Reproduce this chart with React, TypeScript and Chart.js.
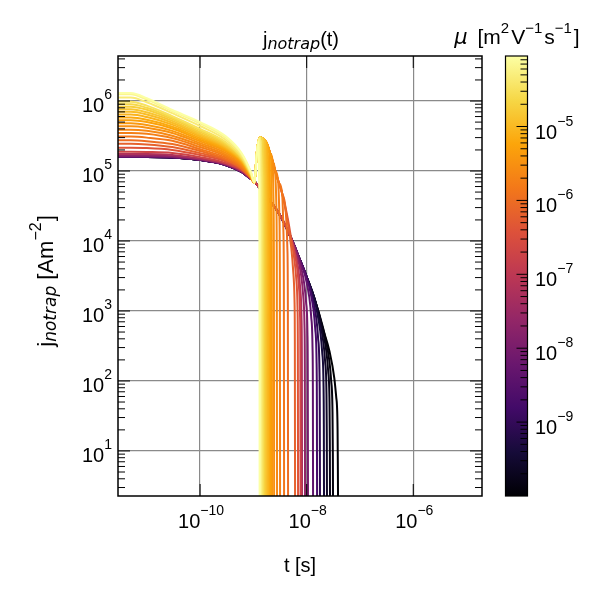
import React, { useEffect, useRef } from 'react';
import { Chart, registerables } from 'chart.js';

Chart.register(...registerables);

// axis limits
const tRange = [2.88e-12, 1.95e-5];
const jRange = [2.27, 4.4e6];
const muRange = [1.0e-10, 9.0e-5];

const tTicks = [1e-10, 1e-8, 1e-6];
const jDecades = [0, 1, 2, 3, 4, 5, 6];
const muDecades = [-10, -9, -8, -7, -6, -5];

// one mobility per curve [m^2/Vs], brightest first (drawn on top)
const mobility = [
  9.0e-5, 6.5e-5, 4.6e-5, 3.3e-5, 2.4e-5, 1.8e-5, 1.4e-5, 1.1e-5, 8.5e-6, 6.6e-6,
  5.2e-6, 4.0e-6, 3.1e-6, 2.4e-6, 1.8e-6, 1.35e-6, 1.0e-6, 6.5e-7, 4.0e-7, 2.0e-7,
  6.0e-8, 2.2e-8, 9.0e-9, 4.0e-9, 1.8e-9, 8.0e-10, 4.0e-10, 2.5e-10, 1.6e-10, 1.25e-10,
  1.0e-10,
];

// early part, same times for every curve
const earlyTimes = [2.88e-12, 5e-12, 1e-11, 3e-11, 1e-10, 3e-10, 6e-10, 9e-10];
const earlyCurrent = [
  [1.3e6, 1.3e6, 1.1e6, 7.44e5, 5.01e5, 3.16e5, 1.81e5, 9.7e4],
  [1.25e6, 1.25e6, 1.05e6, 7.2e5, 4.8e5, 3.0e5, 1.75e5, 9.5e4],
  [1.12e6, 1.12e6, 9.6e5, 6.7e5, 4.4e5, 2.8e5, 1.66e5, 9.3e4],
  [9.8e5, 9.8e5, 8.6e5, 6.1e5, 4.0e5, 2.6e5, 1.58e5, 9.1e4],
  [9.0e5, 9.0e5, 8.0e5, 5.8e5, 3.8e5, 2.5e5, 1.54e5, 9.0e4],
  [8.3e5, 8.3e5, 7.5e5, 5.5e5, 3.6e5, 2.4e5, 1.51e5, 8.9e4],
  [7.6e5, 7.6e5, 6.9e5, 5.2e5, 3.4e5, 2.3e5, 1.47e5, 8.8e4],
  [7.0e5, 7.0e5, 6.4e5, 4.9e5, 3.25e5, 2.22e5, 1.44e5, 8.7e4],
  [6.4e5, 6.4e5, 5.9e5, 4.6e5, 3.1e5, 2.15e5, 1.41e5, 8.6e4],
  [5.8e5, 5.8e5, 5.4e5, 4.3e5, 2.95e5, 2.07e5, 1.38e5, 8.5e4],
  [5.3e5, 5.3e5, 5.0e5, 4.05e5, 2.8e5, 2.0e5, 1.35e5, 8.4e4],
  [4.8e5, 4.8e5, 4.55e5, 3.75e5, 2.65e5, 1.92e5, 1.31e5, 8.3e4],
  [4.35e5, 4.35e5, 4.15e5, 3.5e5, 2.5e5, 1.82e5, 1.27e5, 8.2e4],
  [3.9e5, 3.9e5, 3.75e5, 3.2e5, 2.35e5, 1.72e5, 1.22e5, 8.2e4],
  [3.5e5, 3.5e5, 3.4e5, 2.95e5, 2.2e5, 1.64e5, 1.18e5, 8.1e4],
  [3.1e5, 3.1e5, 3.0e5, 2.7e5, 2.05e5, 1.56e5, 1.14e5, 8.0e4],
  [2.75e5, 2.75e5, 2.67e5, 2.43e5, 1.93e5, 1.48e5, 1.1e5, 7.9e4],
  [2.45e5, 2.45e5, 2.4e5, 2.2e5, 1.8e5, 1.43e5, 1.08e5, 7.9e4],
  [2.15e5, 2.15e5, 2.13e5, 2.0e5, 1.69e5, 1.38e5, 1.06e5, 7.9e4],
  [1.88e5, 1.88e5, 1.87e5, 1.81e5, 1.58e5, 1.3e5, 1.03e5, 7.9e4],
  [1.75e5, 1.75e5, 1.75e5, 1.7e5, 1.51e5, 1.27e5, 1.01e5, 7.8e4],
  [1.67e5, 1.67e5, 1.67e5, 1.63e5, 1.47e5, 1.25e5, 9.9e4, 7.8e4],
  [1.62e5, 1.62e5, 1.62e5, 1.59e5, 1.45e5, 1.23e5, 9.8e4, 7.7e4],
  [1.6e5, 1.6e5, 1.6e5, 1.57e5, 1.44e5, 1.22e5, 9.7e4, 7.7e4],
  [1.59e5, 1.59e5, 1.59e5, 1.56e5, 1.44e5, 1.22e5, 9.7e4, 7.7e4],
  [1.58e5, 1.58e5, 1.58e5, 1.56e5, 1.44e5, 1.22e5, 9.7e4, 7.7e4],
  [1.58e5, 1.58e5, 1.58e5, 1.56e5, 1.44e5, 1.22e5, 9.7e4, 7.7e4],
  [1.58e5, 1.58e5, 1.58e5, 1.56e5, 1.44e5, 1.22e5, 9.7e4, 7.7e4],
  [1.58e5, 1.58e5, 1.58e5, 1.56e5, 1.44e5, 1.22e5, 9.7e4, 7.7e4],
  [1.58e5, 1.58e5, 1.58e5, 1.56e5, 1.44e5, 1.22e5, 9.7e4, 7.7e4],
  [1.58e5, 1.58e5, 1.58e5, 1.56e5, 1.44e5, 1.22e5, 9.7e4, 7.7e4],
];

// the spike that the fast curves share, and the slow decay of the others
const spikeTimes = [1.05e-9, 1.15e-9, 1.24e-9, 1.35e-9, 1.5e-9, 1.66e-9, 1.85e-9, 2.05e-9, 2.3e-9, 2.54e-9, 3.0e-9, 3.45e-9, 4.47e-9];
const spikeCurrent = [6.8e4, 1.7e5, 2.6e5, 3.0e5, 2.9e5, 2.7e5, 2.3e5, 1.8e5, 1.37e5, 1.03e5, 6.8e4, 4.85e4, 2.0e4];
const decayTimes = [1.0e-9, 1.34e-9, 2e-9, 3e-9, 5e-9, 7e-9, 1e-8, 1.4e-8, 2e-8];
const decayCurrent = [7.4e4, 5.6e4, 3.85e4, 2.5e4, 1.14e4, 6.1e3, 3.06e3, 1.5e3, 600];

// how many shared points each curve keeps before its own drop
const spikeKeep = [2, 2, 4, 4, 4, 5, 5, 6, 6, 7, 7, 8, 9, 10, 10, 12, 12, 12, 13, 0, 0, 0, 0, 0, 0, 0, 0, 0, 0, 0, 0];
const decayKeep = [0, 0, 0, 0, 0, 0, 0, 0, 0, 0, 0, 0, 0, 0, 0, 0, 0, 0, 0, 5, 5, 5, 6, 6, 7, 7, 8, 8, 8, 9, 8];

// [t, j] points of each curve's own cut-off
const dropPoints = [
  [[1.24e-9, 2.65e5], [1.27e-9, 1.0e5], [1.297e-9, 1.6e4], [1.31e-9, 1]],
  [[1.24e-9, 2.65e5], [1.3e-9, 2.9e5], [1.32e-9, 1.05e5], [1.346e-9, 1.8e4], [1.36e-9, 1]],
  [[1.377e-9, 1.05e5], [1.406e-9, 1.8e4], [1.42e-9, 1]],
  [[1.445e-9, 1.03e5], [1.475e-9, 1.75e4], [1.49e-9, 1]],
  [[1.45e-9, 2.93e5], [1.504e-9, 1.02e5], [1.535e-9, 1.75e4], [1.55e-9, 1]],
  [[1.571e-9, 9.9e4], [1.604e-9, 1.65e4], [1.62e-9, 1]],
  [[1.6e-9, 2.77e5], [1.649e-9, 9.5e4], [1.683e-9, 1.6e4], [1.7e-9, 1]],
  [[1.727e-9, 8.9e4], [1.762e-9, 1.5e4], [1.78e-9, 1]],
  [[1.75e-9, 2.5e5], [1.824e-9, 8.2e4], [1.861e-9, 1.35e4], [1.88e-9, 1]],
  [[1.921e-9, 7.5e4], [1.96e-9, 1.2e4], [1.98e-9, 1]],
  [[2.0e-9, 1.9e5], [2.037e-9, 6.4e4], [2.079e-9, 1.0e4], [2.1e-9, 1]],
  [[2.15e-9, 1.6e5], [2.173e-9, 5.4e4], [2.218e-9, 8.5e3], [2.24e-9, 1]],
  [[2.376e-9, 4.3e4], [2.425e-9, 6.7e3], [2.45e-9, 1]],
  [[2.7e-9, 3.1e4], [2.75e-9, 5.0e3], [2.78e-9, 1]],
  [[2.9e-9, 7.4e4], [3.075e-9, 2.25e4], [3.138e-9, 3.7e3], [3.17e-9, 1]],
  [[3.657e-9, 1.4e4], [3.732e-9, 2.2e3], [3.77e-9, 1]],
  [[4.0e-9, 2.93e4], [4.346e-9, 7.7e3], [4.435e-9, 1.24e3], [4.48e-9, 1]],
  [[4.24e-9, 2.23e4], [5.15e-9, 7.9e3], [5.575e-9, 3.8e3], [5.91e-9, 1.42e3], [6.0e-9, 366], [6.06e-9, 1]],
  [[4.83e-9, 1.42e4], [5.865e-9, 5.5e3], [6.35e-9, 3.0e3], [6.73e-9, 1.12e3], [6.83e-9, 287], [6.9e-9, 1]],
  [[5.38e-9, 9.2e3], [6.54e-9, 4.5e3], [7.07e-9, 2.45e3], [7.5e-9, 906], [7.61e-9, 234], [7.69e-9, 1]],
  [[5.74e-9, 8.2e3], [6.97e-9, 4.0e3], [7.54e-9, 2.16e3], [8.0e-9, 800], [8.12e-9, 206], [8.2e-9, 1]],
  [[6.53e-9, 6.45e3], [7.93e-9, 3.12e3], [8.58e-9, 1.69e3], [9.1e-9, 624], [9.24e-9, 160], [9.33e-9, 1]],
  [[7.42e-9, 5.08e3], [9.01e-9, 2.43e3], [9.75e-9, 1.32e3], [1.034e-8, 485], [1.049e-8, 124], [1.06e-8, 1]],
  [[9.24e-9, 3.31e3], [1.122e-8, 1.56e3], [1.214e-8, 833], [1.287e-8, 305], [1.307e-8, 78], [1.32e-8, 1]],
  [[1.1e-8, 2.33e3], [1.335e-8, 1.08e3], [1.444e-8, 566], [1.531e-8, 202], [1.554e-8, 52], [1.57e-8, 1]],
  [[1.246e-8, 1.78e3], [1.513e-8, 798], [1.638e-8, 410], [1.736e-8, 147], [1.762e-8, 37], [1.78e-8, 1]],
  [[1.484e-8, 1.2e3], [1.802e-8, 509], [1.95e-8, 262], [2.067e-8, 94], [2.099e-8, 24], [2.12e-8, 1]],
  [[1.687e-8, 864], [2.049e-8, 366], [2.217e-8, 191], [2.35e-8, 69], [2.386e-8, 17.5], [2.41e-8, 1]],
  [[1.925e-8, 616], [2.338e-8, 267], [2.53e-8, 139], [2.681e-8, 50], [2.72e-8, 12.8], [2.75e-8, 1]],
  [[2.19e-8, 447], [2.66e-8, 195], [2.88e-8, 101], [3.052e-8, 36], [3.099e-8, 9.2], [3.13e-8, 1]],
  [[2.0e-8, 571], [2.7e-8, 259], [3.3e-8, 110], [3.6e-8, 57], [3.7e-8, 45], [3.8e-8, 20], [3.85e-8, 5.4], [3.9e-8, 1]],
];

const INFERNO = ['#000004', '#160b39', '#420a68', '#6a176e', '#932667', '#bc3754', '#dd513a', '#f37819', '#fca50a', '#f6d746', '#fcffa4'];

function hexRgb(h: string) {
  return [parseInt(h.slice(1, 3), 16), parseInt(h.slice(3, 5), 16), parseInt(h.slice(5, 7), 16)];
}

function inferno(f: number) {
  const x = Math.min(1, Math.max(0, f)) * (INFERNO.length - 1);
  const i = Math.min(INFERNO.length - 2, Math.floor(x));
  const u = x - i;
  const a = hexRgb(INFERNO[i]);
  const b = hexRgb(INFERNO[i + 1]);
  const c = a.map((v, k) => Math.round(v + (b[k] - v) * u));
  return `rgb(${c[0]},${c[1]},${c[2]})`;
}

function muFraction(mu: number) {
  const lo = Math.log10(muRange[0]);
  const hi = Math.log10(muRange[1]);
  return (Math.log10(mu) - lo) / (hi - lo);
}

function logTicks(decades: number[], lo: number, hi: number) {
  const out: { value: number; major: boolean }[] = [];
  for (const d of decades) {
    for (let k = 1; k <= 9; k++) {
      const v = k * Math.pow(10, d);
      if (v > lo * 1.0001 && v < hi * 0.9999) out.push({ value: v, major: k === 1 });
    }
  }
  return out;
}

const SANS = '"Liberation Sans", Arial, Helvetica, sans-serif';
const MATH = '"DejaVu Sans", sans-serif';

type Seg = { s: string; size: number; dy?: number; it?: boolean; gap?: number };

const segFont = (g: Seg) => `${g.it ? 'italic ' : ''}${g.size}px ${g.it ? MATH : SANS}`;

function drawRich(ctx: CanvasRenderingContext2D, segs: Seg[], x: number, y: number, align: string) {
  let w = 0;
  for (const g of segs) {
    ctx.font = segFont(g);
    w += ctx.measureText(g.s).width + (g.gap || 0);
  }
  let cx = align === 'left' ? x : align === 'right' ? x - w : x - w / 2;
  for (const g of segs) {
    ctx.font = segFont(g);
    ctx.fillText(g.s, cx, y + (g.dy || 0));
    cx += ctx.measureText(g.s).width + (g.gap || 0);
  }
}

const power = (e: number): Seg[] => [
  { s: '10', size: 20 },
  { s: e < 0 ? '\u2212' + -e : String(e), size: 14, dy: -13 },
];

const decorations = {
  id: 'decorations',
  afterDraw(chart: any) {
    const { ctx, chartArea: a } = chart;
    const sx = chart.scales.x;
    const sy = chart.scales.y;
    const sc = chart.scales.cb;
    ctx.save();

    // inward ticks on all four sides
    ctx.strokeStyle = '#000';
    ctx.lineWidth = 1;
    ctx.beginPath();
    for (const tk of sx.ticks) {
      const px = sx.getPixelForValue(tk.value);
      ctx.moveTo(px, a.bottom);
      ctx.lineTo(px, a.bottom - 12);
      ctx.moveTo(px, a.top);
      ctx.lineTo(px, a.top + 12);
    }
    for (const tk of sy.ticks) {
      const py = sy.getPixelForValue(tk.value);
      const len = tk.major ? 12 : 7;
      ctx.moveTo(a.left, py);
      ctx.lineTo(a.left + len, py);
      ctx.moveTo(a.right, py);
      ctx.lineTo(a.right - len, py);
    }
    ctx.stroke();
    ctx.lineWidth = 1.5;
    ctx.strokeRect(a.left, a.top, a.right - a.left, a.bottom - a.top);

    ctx.fillStyle = '#000';
    ctx.textAlign = 'left';
    ctx.textBaseline = 'alphabetic';
    for (const t of tTicks) {
      drawRich(ctx, power(Math.round(Math.log10(t))), sx.getPixelForValue(t) + 1, a.bottom + 31.5, 'center');
    }
    for (const tk of sy.ticks) {
      if (!tk.major) continue;
      drawRich(ctx, power(Math.round(Math.log10(tk.value))), a.left - 6, sy.getPixelForValue(tk.value) + 11, 'right');
    }

    // colour bar
    const cbL = a.right + 23.5;
    const cbR = a.right + 45.5;
    const cbTop = sc.getPixelForValue(muRange[1]);
    const cbBottom = sc.getPixelForValue(muRange[0]);
    const grad = ctx.createLinearGradient(0, cbBottom, 0, cbTop);
    INFERNO.forEach((c, i) => grad.addColorStop(i / (INFERNO.length - 1), c));
    ctx.fillStyle = grad;
    ctx.fillRect(cbL, cbTop, cbR - cbL, cbBottom - cbTop);
    ctx.strokeStyle = '#000';
    ctx.lineWidth = 1;
    ctx.beginPath();
    for (const tk of logTicks(muDecades, muRange[0], muRange[1])) {
      const py = sc.getPixelForValue(tk.value);
      ctx.moveTo(cbR, py);
      ctx.lineTo(cbR - (tk.major ? 11 : 7), py);
    }
    ctx.stroke();
    ctx.lineWidth = 1.2;
    ctx.strokeRect(cbL, cbTop, cbR - cbL, cbBottom - cbTop);
    ctx.fillStyle = '#000';
    for (const d of muDecades) {
      const v = Math.pow(10, d);
      if (v <= muRange[0] * 1.0001) continue;
      drawRich(ctx, power(d), cbR + 7.5, sc.getPixelForValue(v) + 12, 'left');
    }

    // titles
    drawRich(ctx, [{ s: 'j', size: 20 }, { s: 'notrap', size: 16, dy: 3, it: true }, { s: '(t)', size: 20 }], 301, 46, 'center');
    drawRich(ctx, [{ s: 't [s]', size: 20 }], 300, 572, 'center');
    drawRich(
      ctx,
      [
        { s: '\u03bc', size: 21, it: true, gap: 4 },
        { s: ' [m', size: 21 },
        { s: '2', size: 15, dy: -11, gap: 2 },
        { s: 'V', size: 21 },
        { s: '\u22121', size: 15, dy: -11, gap: 2 },
        { s: 's', size: 21 },
        { s: '\u22121', size: 15, dy: -11, gap: 2 },
        { s: ']', size: 21 },
      ],
      517,
      44,
      'center',
    );
    ctx.translate(53, 281);
    ctx.rotate(-Math.PI / 2);
    drawRich(
      ctx,
      [
        { s: 'j', size: 22 },
        { s: 'notrap', size: 17, dy: 3, it: true },
        { s: ' [Am', size: 22 },
        { s: '\u22122', size: 16, dy: -12, gap: 1 },
        { s: ']', size: 22 },
      ],
      0,
      0,
      'center',
    );
    ctx.restore();
  },
};

const App: React.FC = () => {
  const canvasRef = useRef<HTMLCanvasElement>(null);

  useEffect(() => {
    document.body.style.margin = '0';
    const canvas = canvasRef.current;
    if (!canvas) return;

    const datasets = mobility.map((mu, i) => {
      const pts = earlyTimes.map((t, k) => ({ x: t, y: earlyCurrent[i][k] }));
      for (let k = 0; k < spikeKeep[i]; k++) pts.push({ x: spikeTimes[k], y: spikeCurrent[k] });
      for (let k = 0; k < decayKeep[i]; k++) pts.push({ x: decayTimes[k], y: decayCurrent[k] });
      for (const [t, j] of dropPoints[i]) pts.push({ x: t, y: j });
      return {
        label: `mu = ${mu}`,
        data: pts,
        borderColor: inferno(muFraction(mu)),
        borderWidth: 2,
        pointRadius: 0,
        fill: false,
        cubicInterpolationMode: 'monotone' as const,
      };
    });

    const yTickList = logTicks(jDecades, jRange[0], jRange[1]);

    const chart = new Chart(canvas, {
      type: 'line',
      data: { datasets },
      options: {
        animation: false,
        responsive: false,
        layout: { padding: { left: 118, right: 118, top: 56, bottom: 104 } },
        plugins: { legend: { display: false }, tooltip: { enabled: false } },
        scales: {
          x: {
            type: 'logarithmic',
            min: tRange[0],
            max: tRange[1],
            ticks: { display: false },
            grid: { drawTicks: false, color: '#8a8a8a', lineWidth: 1.2 },
            border: { display: false },
            afterBuildTicks: (axis: any) => {
              axis.ticks = tTicks.map((v) => ({ value: v, major: true }));
            },
          },
          y: {
            type: 'logarithmic',
            min: jRange[0],
            max: jRange[1],
            ticks: { display: false },
            grid: {
              drawTicks: false,
              lineWidth: 1.2,
              color: (c: any) => (c.tick && c.tick.major ? '#8a8a8a' : 'rgba(0,0,0,0)'),
            },
            border: { display: false },
            afterBuildTicks: (axis: any) => {
              axis.ticks = yTickList.map((t) => ({ ...t }));
            },
          },
          cb: {
            type: 'logarithmic',
            axis: 'y',
            display: false,
            min: muRange[0],
            max: muRange[1],
          },
        },
      } as any,
      plugins: [decorations],
    });

    return () => chart.destroy();
  }, []);

  return <canvas ref={canvasRef} width={600} height={600} style={{ display: 'block' }} />;
};

export default App;
